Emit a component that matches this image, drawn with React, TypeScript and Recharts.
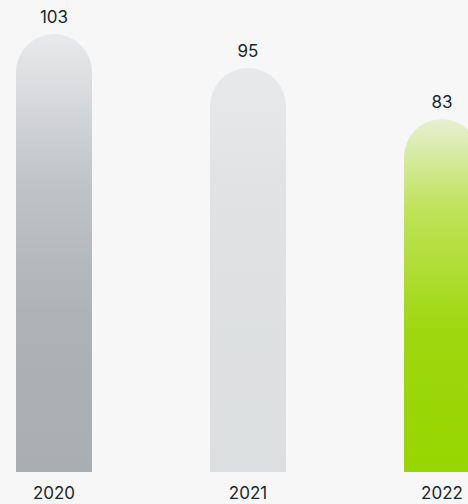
import React from 'react';
import { BarChart, Bar, XAxis, YAxis, Cell, LabelList } from 'recharts';

const years = ['2020', '2021', '2022'];
const values = [103, 95, 83];
const gradients = [
  [
    ['0%', '#e8e9eb'],
    ['35%', '#bfc3c6'],
    ['65%', '#adb2b6'],
    ['100%', '#a9aeb2'],
  ],
  [
    ['0%', '#e8e9eb'],
    ['35%', '#dfe1e3'],
    ['100%', '#dcdfe0'],
  ],
  [
    ['0%', '#e7f0d2'],
    ['25%', '#c0e35c'],
    ['60%', '#9ed70e'],
    ['100%', '#97d600'],
  ],
];

const data = years.map((y, i) => ({ year: y, value: values[i] }));

export default function App() {
  return (
    <div
      style={{
        position: 'fixed',
        left: 0,
        top: 0,
        width: 468,
        height: 504,
        overflow: 'hidden',
        background: '#f7f7f7',
        fontFamily: 'Inter, sans-serif',
      }}
    >
      <div style={{ position: 'absolute', left: -43.5, top: 0 }}>
        <BarChart
          width={582}
          height={504}
          data={data}
          margin={{ top: 34, right: 0, bottom: 0, left: 0 }}
          barCategoryGap={0}
        >
          <defs>
            {gradients.map((g, i) => (
              <linearGradient key={i} id={`grad-${i}`} x1="0" y1="0" x2="0" y2="1">
                {g.map(([o, c]) => (
                  <stop key={o} offset={o} stopColor={c} />
                ))}
              </linearGradient>
            ))}
          </defs>
          <XAxis
            dataKey="year"
            height={32}
            axisLine={false}
            tickLine={false}
            tick={{ fill: '#17282a', fontSize: 17, fontFamily: 'Inter, sans-serif' }}
            tickMargin={9}
          />
          <YAxis hide domain={[0, 103]} />
          <Bar dataKey="value" barSize={76} radius={[38, 38, 0, 0]} isAnimationActive={false}>
            {data.map((d, i) => (
              <Cell key={d.year} fill={`url(#grad-${i})`} />
            ))}
            <LabelList
              dataKey="value"
              position="top"
              offset={11}
              fill="#17282a"
              fontSize={17}
              fontFamily="Inter, sans-serif"
            />
          </Bar>
        </BarChart>
      </div>
    </div>
  );
}
